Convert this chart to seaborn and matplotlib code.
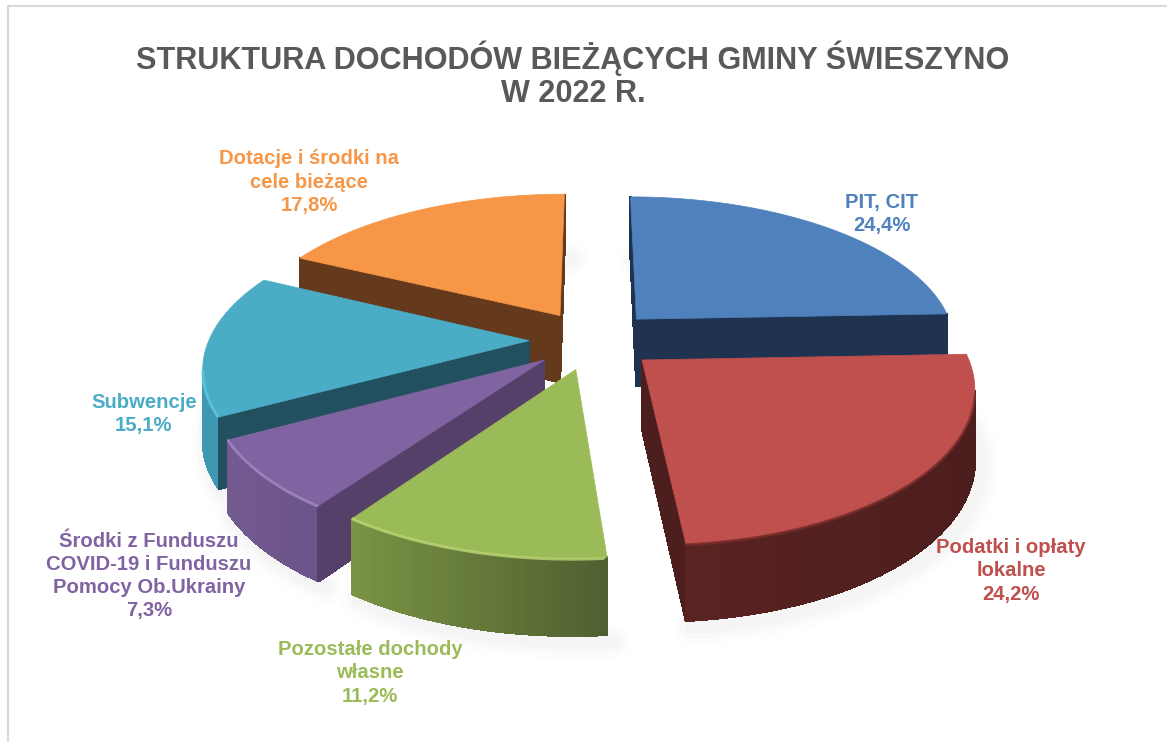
import numpy as np
import seaborn as sns
import matplotlib.pyplot as plt
from matplotlib.colors import to_rgb

# dane
kategorie = ['PIT, CIT', 'Podatki i opłaty\nlokalne', 'Pozostałe dochody\nwłasne',
             'Środki z Funduszu\nCOVID-19 i Funduszu\nPomocy Ob.Ukrainy', 'Subwencje',
             'Dotacje i środki na\ncele bieżące']
wartosci = [24.4, 24.2, 11.2, 7.3, 15.1, 17.8]
tytul = 'STRUKTURA DOCHODÓW BIEŻĄCYCH GMINY ŚWIESZYNO\nW 2022 R.'

# kolory
kolory = sns.color_palette(['#4f81bd', '#c0504d', '#9bbb59', '#8064a2', '#4bacc6', '#f79646'])
sciana_prom = ['#1f3350', '#4c1e1d', '#4f6030', '#55406a', '#22505e', '#653a1c']
sciana_lewa = ['#3a6595', '#5b2422', '#7a9344', '#735a91', '#3f98b2', '#b06a2c']
sciana_prawa = ['#3a6595', '#4c1e1d', '#4f6030', '#574473', '#3a8ba5', '#b06a2c']
blask = ['#4f81bd', '#7d2f2c', '#c6e07c', '#a88dcb', '#62cdea', '#f79646']
kolejnosc = [0, 5, 4, 3, 2, 1]

# polozenie etykiet
etykiety_xy = [(882, 214), (1011, 571), (370, 673), (149, 576), (144, 414), (309, 182)]

# rzut perspektywiczny
CX, CY, RX, RY, K = 593, 340, 320, 148, 0.16
GLEB = 68


def rzut(u, v):
    d = 1 + K * v
    return CX + RX * u / d, CY - RY * v / d


def gleb(v):
    return GLEB - 8 * v


sns.set_theme(style='white')
plt.rcParams['font.family'] = ['Liberation Sans', 'DejaVu Sans']

fig, ax = plt.subplots(figsize=(11.67, 7.42), dpi=100)
fig.subplots_adjust(0, 0, 1, 1)

# katy wycinkow liczy pie
wedges, _ = ax.pie(wartosci, startangle=90, counterclock=False, explode=[0.2] * len(wartosci))
for w in wedges:
    w.set_visible(False)
ax.set_aspect('auto')
ax.set_xlim(0, 1167)
ax.set_ylim(742, 0)
ax.axis('off')

for i in kolejnosc:
    w = wedges[i]
    kat = np.radians(np.linspace(w.theta1, w.theta2, 80))
    u = np.r_[w.center[0], w.center[0] + w.r * np.cos(kat)]
    v = np.r_[w.center[1], w.center[1] + w.r * np.sin(kat)]
    x, y = rzut(u, v)
    d = gleb(v)

    # miekki cien pod wycinkiem
    for lw, a in [(26, 0.012), (18, 0.018), (10, 0.025)]:
        ax.plot(x[1:] + 6, y[1:] + d[1:] + 6, color='#555555', lw=lw, alpha=a,
                solid_capstyle='round', zorder=1 + kolejnosc.index(i))

    z = 2 + kolejnosc.index(i)
    n = len(x)
    xmin, xmax = x.min(), x.max()
    for a in range(n):
        b = (a + 1) % n
        if x[b] <= x[a]:
            continue
        kx = [x[a], x[b], x[b], x[a]]
        ky = [y[a], y[b], y[b] + d[b], y[a] + d[a]]
        if a == 0 or b == 0:
            kol = sciana_prom[i]
        else:
            t = ((x[a] + x[b]) / 2 - xmin) / (xmax - xmin)
            kol = (1 - t) * np.array(to_rgb(sciana_lewa[i])) + t * np.array(to_rgb(sciana_prawa[i]))
        ax.fill(kx, ky, color=kol, lw=1, antialiased=False, zorder=z)

    ax.fill(x, y, color=kolory[i], lw=0.5, zorder=z + 0.1)

    # jasna krawedz na luku od strony widza
    lx, ly = x[1:], y[1:]
    przod = np.r_[lx[1:] > lx[:-1], False]
    ax.plot(np.where(przod, lx, np.nan), np.where(przod, ly + 1, np.nan), color=blask[i],
            lw=2, alpha=0.75, zorder=z + 0.2)

    opis = str(wartosci[i]).replace('.', ',')
    ax.text(etykiety_xy[i][0], etykiety_xy[i][1], f'{kategorie[i]}\n{opis}%',
            color=kolory[i], fontsize=14.6, fontweight='bold', ha='center', va='center',
            linespacing=1.28, zorder=30)

ax.text(573, 75, tytul, color='#595959', fontsize=22.1, fontweight='bold', ha='center', va='center',
        linespacing=1.14, zorder=30)

# ramka wykresu
ax.plot([8, 8, 1167], [742, 6, 6], color='#d9d9d9', lw=1.5, zorder=0, clip_on=False)

plt.savefig('out.png', dpi=100)
